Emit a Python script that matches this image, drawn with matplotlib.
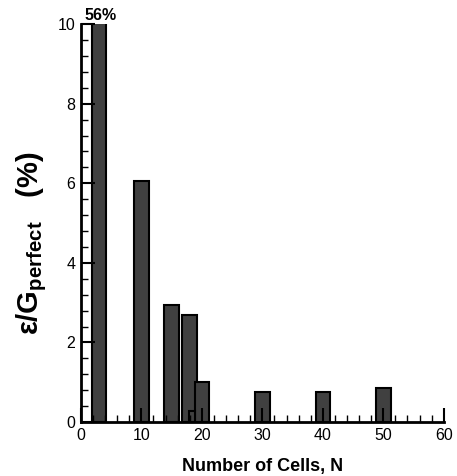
import matplotlib.pyplot as plt
from matplotlib.ticker import MultipleLocator

# Error per cell count
cells = [3, 10, 15, 18, 20, 30, 40, 50]
error_pct = [56, 6.05, 2.94, 2.69, 1.0, 0.75, 0.75, 0.85]
# small extra bar at N=18
extra_cells = [18.3]
extra_error = [0.28]

plt.rcParams['font.family'] = ['Liberation Sans', 'DejaVu Sans']
plt.rcParams['mathtext.fontset'] = 'custom'
plt.rcParams['mathtext.rm'] = 'Liberation Sans:bold'
plt.rcParams['mathtext.it'] = 'Liberation Sans:bold'
plt.rcParams['mathtext.bf'] = 'Liberation Sans:bold'

fig = plt.figure(figsize=(4.57, 4.76), dpi=100)
ax = fig.add_axes([0.177, 0.1134, 0.794, 0.836])

ax.bar(cells, error_pct, width=2.4, color='#404040', edgecolor='black', linewidth=1.5)
ax.bar(extra_cells, extra_error, width=1.0, color='#404040', edgecolor='black', linewidth=1.5)

ax.set_xlim(0, 60)
ax.set_ylim(0, 10)

# first bar runs off the top, so print its value
ax.text(cells[0] + 0.3, 10.03, f'{error_pct[0]:.0f}%', ha='center', va='bottom',
        fontsize=11.5, fontweight='bold')

ax.xaxis.set_major_locator(MultipleLocator(10))
ax.xaxis.set_minor_locator(MultipleLocator(2))
ax.yaxis.set_major_locator(MultipleLocator(2))
ax.yaxis.set_minor_locator(MultipleLocator(0.4))
ax.tick_params(which='major', direction='in', length=10, width=1.5, labelsize=11.5, pad=4)
ax.tick_params(which='minor', direction='in', length=5, width=1)

for side in ['top', 'right']:
    ax.spines[side].set_visible(False)
for side in ['left', 'bottom']:
    ax.spines[side].set_linewidth(2)

ax.set_xlabel('Number of Cells, N', fontsize=13, fontweight='bold', labelpad=11)
ax.set_ylabel('ε/G$_{perfect}$   (%)', fontsize=21, fontweight='bold')
ax.yaxis.set_label_coords(-0.087, 0.45)

plt.savefig('out.png', dpi=100)
